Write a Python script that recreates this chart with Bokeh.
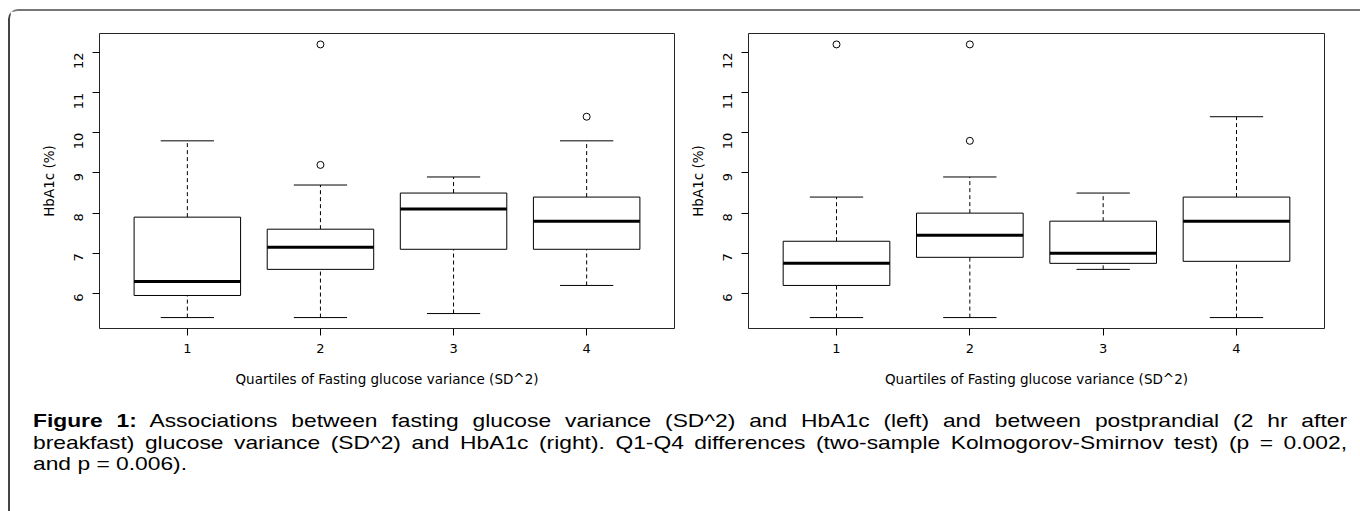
import math
from bokeh.plotting import figure
from bokeh.models import FixedTicker, Div
from bokeh.layouts import column, row
from bokeh.embed import file_html
from bokeh.resources import INLINE

# ---- data ----
quartiles = [1, 2, 3, 4]
y_ticks = [6, 7, 8, 9, 10, 11, 12]

# Left: fasting glucose variance quartiles vs HbA1c
fast_low = [5.4, 5.4, 5.5, 6.2]
fast_q1 = [5.95, 6.6, 7.1, 7.1]
fast_med = [6.3, 7.15, 8.1, 7.8]
fast_q3 = [7.9, 7.6, 8.5, 8.4]
fast_high = [9.8, 8.7, 8.9, 9.8]
fast_out_x = [2, 2, 4]
fast_out_y = [12.2, 9.2, 10.4]

# Right: postprandial glucose variance quartiles vs HbA1c
post_low = [5.4, 5.4, 6.6, 5.4]
post_q1 = [6.2, 6.9, 6.75, 6.8]
post_med = [6.75, 7.45, 7.0, 7.8]
post_q3 = [7.3, 8.0, 7.8, 8.4]
post_high = [8.4, 8.9, 8.5, 10.4]
post_out_x = [1, 2, 2]
post_out_y = [12.2, 12.2, 9.8]

x_title = "Quartiles of Fasting glucose variance (SD^2)"
y_title = "HbA1c (%)"

BOX_W = 0.8
CAP_W = 0.4
FONT = "DejaVu Sans"


def make_panel(low, q1, med, q3, high, ox, oy, width, mbl, mbr):
    p = figure(width=width, height=384, x_range=(0.34, 4.66), y_range=(5.128, 12.472),
               output_backend="svg", toolbar_location=None,
               min_border_left=mbl, min_border_right=mbr,
               min_border_top=22, min_border_bottom=67)
    p.grid.visible = False
    p.outline_line_color = "black"
    p.outline_line_width = 1
    p.outline_line_alpha = 0.85
    p.background_fill_color = "white"
    p.border_fill_color = "white"

    # whiskers (dashed)
    p.segment(x0=quartiles, y0=q3, x1=quartiles, y1=high, line_color="black",
              line_width=1, line_dash="4 3")
    p.segment(x0=quartiles, y0=low, x1=quartiles, y1=q1, line_color="black",
              line_width=1, line_dash="4 3")
    # staples
    p.segment(x0=[q - CAP_W / 2 for q in quartiles], y0=high,
              x1=[q + CAP_W / 2 for q in quartiles], y1=high, line_color="black", line_width=1)
    p.segment(x0=[q - CAP_W / 2 for q in quartiles], y0=low,
              x1=[q + CAP_W / 2 for q in quartiles], y1=low, line_color="black", line_width=1)
    # boxes
    p.vbar(x=quartiles, bottom=q1, top=q3, width=BOX_W, fill_color="white",
           line_color="black", line_width=1)
    # medians
    p.segment(x0=[q - BOX_W / 2 for q in quartiles], y0=med,
              x1=[q + BOX_W / 2 for q in quartiles], y1=med, line_color="black", line_width=3)
    # outliers
    p.scatter(x=ox, y=oy, marker="circle", size=7, fill_color=None,
              line_color="black", line_width=1)

    for ax in (p.xaxis[0], p.yaxis[0]):
        ax.axis_line_color = None
        ax.major_tick_line_color = "black"
        ax.major_tick_out = 7
        ax.major_tick_in = 0
        ax.minor_tick_line_color = None
        ax.major_label_text_font = FONT
        ax.major_label_text_font_size = "13px"
        ax.major_label_text_color = "black"
        ax.axis_label_text_font = FONT
        ax.axis_label_text_font_size = "13.5px"
        ax.axis_label_text_font_style = "normal"
        ax.axis_label_text_color = "black"

    p.xaxis.ticker = FixedTicker(ticks=quartiles)
    p.xaxis.axis_label = x_title
    p.xaxis.major_label_standoff = 8
    p.xaxis.axis_label_standoff = 15

    p.yaxis.ticker = FixedTicker(ticks=y_ticks)
    p.yaxis.axis_label = y_title
    p.yaxis.major_label_orientation = math.pi / 2
    p.yaxis.major_label_standoff = 14
    p.yaxis.axis_label_standoff = 10
    return p


p1 = make_panel(fast_low, fast_q1, fast_med, fast_q3, fast_high, fast_out_x, fast_out_y,
                668, 89, 4)
p2 = make_panel(post_low, post_q1, post_med, post_q3, post_high, post_out_x, post_out_y,
                682, 70, 36)

caption_html = (
    "<div style='padding:10px 0 0 18px;'>"
    "<div style=\"width:1095px;transform:scaleX(1.2);transform-origin:0 0;"
    "font-family:'Liberation Sans',Arial,sans-serif;font-size:19px;line-height:21.5px;"
    "color:#000;\">"
    "<div style='text-align:justify;text-align-last:justify'>"
    "<b>Figure 1:</b> Associations between fasting glucose variance (SD^2) and HbA1c (left) "
    "and between postprandial (2 hr after</div>"
    "<div style='text-align:justify;text-align-last:justify'>"
    "breakfast) glucose variance (SD^2) and HbA1c (right). Q1-Q4 differences "
    "(two-sample Kolmogorov-Smirnov test) (p = 0.002,</div>"
    "<div>and p = 0.006).</div>"
    "</div></div>"
)
cap = Div(text=caption_html, width=1350, height=116)

layout = column(row(p1, p2), cap, margin=(9, 0, 0, 8),
                styles={"border-top": "2px solid #777777",
                        "border-left": "2px solid #444444",
                        "border-top-left-radius": "10px"})

open("out.html", "w").write(file_html(layout, INLINE))
